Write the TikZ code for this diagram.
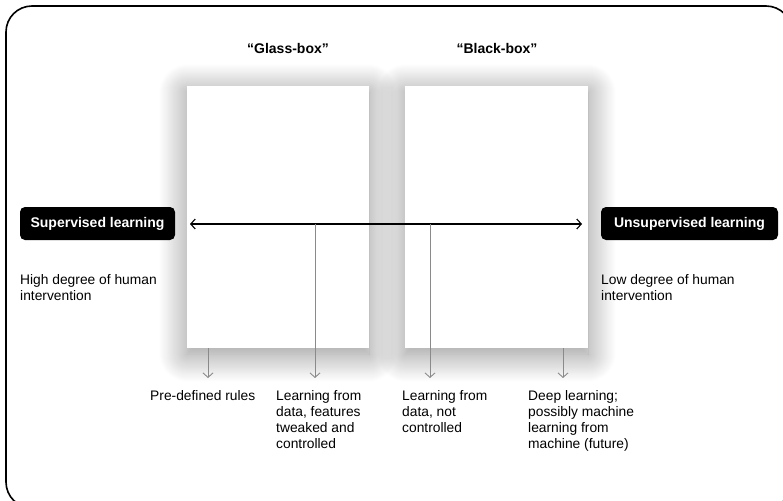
\documentclass[tikz,border=0pt]{standalone}
\usepackage{fontspec}
\setmainfont{Liberation Sans}
\usetikzlibrary{arrows.meta,shadows.blur}
\definecolor{linegray}{HTML}{8A8A8A}
\tikzset{
  panel/.style={draw=none,fill=white,minimum width=182pt,minimum height=262pt,inner sep=0pt,
    blur shadow={shadow xshift=0pt,shadow yshift=-6pt,shadow blur radius=28pt,shadow opacity=45,shadow blur steps=30}},
  title/.style={font=\fontsize{14}{16}\selectfont\bfseries,inner sep=0pt},
  pill/.style={fill=black,text=white,rounded corners=5pt,font=\fontsize{14}{16}\selectfont\bfseries,
    minimum height=33pt,inner sep=0pt},
  lbl/.style={font=\fontsize{13.8}{16}\selectfont,inner sep=0pt,anchor=north west,align=left},
  mainarrow/.style={line width=1.1pt,{Straight Barb[length=4.5pt,width=10pt,line width=1.1pt]}-{Straight Barb[length=4.5pt,width=10pt,line width=1.1pt]}},
  grayarrow/.style={draw=linegray,line width=0.9pt,-{Straight Barb[length=4.5pt,width=10pt,line width=0.9pt]}}
}
\begin{document}
\begin{tikzpicture}[x=1pt,y=-1pt]
\useasboundingbox (0,0) rectangle (783,500);
\clip (0,0) rectangle (783,500);
\draw[line width=1.6pt,rounded corners=26pt] (6,6) rectangle (792,508);

\node[panel] (glass) at (278,217) {};
\node[panel,minimum width=183pt] (black) at (496.5,217) {};

\node[title] (gt) at (288,48) {“Glass-box”};
\node[title] (bt) at (497,48) {“Black-box”};

\node[pill,minimum width=155pt] (sup) at (97.5,223.5) {Supervised learning};
\node[pill,minimum width=177pt] (unsup) at (689.5,223.5) {Unsupervised learning};

\coordinate (aL) at (190,224);
\coordinate (aR) at (582,224);
\draw[mainarrow] (aL) -- (aR);

\coordinate (j1) at (315,224);
\coordinate (j2) at (430,224);
\coordinate (e1) at (208,378);
\coordinate (e2) at (315,378);
\coordinate (e3) at (430,378);
\coordinate (e4) at (563,378);
\coordinate (s1) at (208,348);
\coordinate (s4) at (563,348);
\draw[grayarrow] (s1) -- (e1);
\draw[grayarrow] (j1) -- (e2);
\draw[grayarrow] (j2) -- (e3);
\draw[grayarrow] (s4) -- (e4);

\node[lbl] (hi) at (20,274) {High degree of human\\intervention};
\node[lbl] (lo) at (601,274) {Low degree of human\\intervention};

\node[lbl] (l1) at (150,390) {Pre-defined rules};
\node[lbl] (l2) at (276,390) {Learning from\\data, features\\tweaked and\\controlled};
\node[lbl] (l3) at (402,390) {Learning from\\data, not\\controlled};
\node[lbl] (l4) at (528,390) {Deep learning;\\possibly machine\\learning from\\machine (future)};
\end{tikzpicture}
\end{document}
